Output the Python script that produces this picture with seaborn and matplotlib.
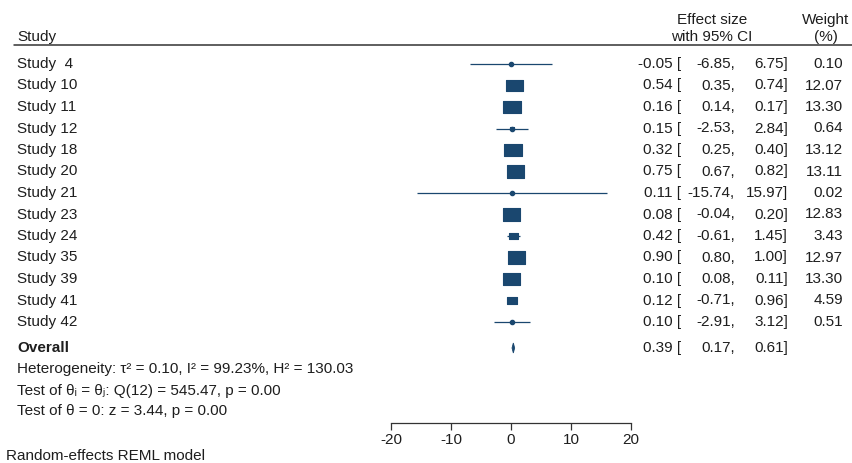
import numpy as np
import matplotlib
matplotlib.use("Agg")
import matplotlib.pyplot as plt
from matplotlib.path import Path
from matplotlib.lines import Line2D
import seaborn as sns

# study-level data
studies = ["Study  4", "Study 10", "Study 11", "Study 12", "Study 18", "Study 20", "Study 21",
           "Study 23", "Study 24", "Study 35", "Study 39", "Study 41", "Study 42"]
effect = [-0.05, 0.54, 0.16, 0.15, 0.32, 0.75, 0.11, 0.08, 0.42, 0.90, 0.10, 0.12, 0.10]
ci_low = [-6.85, 0.35, 0.14, -2.53, 0.25, 0.67, -15.74, -0.04, -0.61, 0.80, 0.08, -0.71, -2.91]
ci_high = [6.75, 0.74, 0.17, 2.84, 0.40, 0.82, 15.97, 0.20, 1.45, 1.00, 0.11, 0.96, 3.12]
weight = [0.10, 12.07, 13.30, 0.64, 13.12, 13.11, 0.02, 12.83, 3.43, 12.97, 13.30, 4.59, 0.51]

overall = (0.39, 0.17, 0.61)
stats_lines = ["Heterogeneity: \u03c4\u00b2 = 0.10, I\u00b2 = 99.23%, H\u00b2 = 130.03",
               "Test of \u03b8\u1d62 = \u03b8\u2c7c: Q(12) = 545.47, p = 0.00",
               "Test of \u03b8 = 0: z = 3.44, p = 0.00"]
xticks = [-20, -10, 0, 10, 20]
footnote = "Random-effects REML model"

sns.set_theme(style="white")
plt.rcParams['font.family'] = ['Liberation Sans', 'DejaVu Sans']
plt.rcParams['axes.unicode_minus'] = False

W, H = 852, 463
navy = "#1a476f"
txt = "#1e1e1e"
fs = 11

def px(x):
    return x / W

def py(y):
    return 1 - y / H

fig = plt.figure(figsize=(W / 100, H / 100), dpi=100)
fig.patch.set_facecolor("white")

# forest axes: y data is in pixel rows so text and marks line up
ax = fig.add_axes([px(391), py(423), px(240), 423 / H])
ax.set_xlim(-20, 20)
ax.set_ylim(423, 0)

rows = 64 + np.arange(len(studies)) * 21.5
y_overall = 348

# confidence intervals
ax.hlines(rows, ci_low, ci_high, color=navy, lw=0.9)

# weighted boxes (slightly wider than tall, like the original)
box = Path([(-1.4, -1), (1.4, -1), (1.4, 1), (-1.4, 1), (-1.4, -1)],
           [Path.MOVETO, Path.LINETO, Path.LINETO, Path.LINETO, Path.CLOSEPOLY])
sns.scatterplot(x=effect, y=rows, size=weight, sizes=(0, 160), size_norm=(0, max(weight)),
                marker=box, color=navy, edgecolor=navy, linewidth=0.8, legend=False, ax=ax)
ax.plot(effect, rows, "o", color=navy, ms=3, mec=navy)

# overall diamond
es, lo, hi = overall
ax.fill([lo, es, hi, es], [y_overall, y_overall - 5, y_overall, y_overall + 5],
        color=navy, lw=0.6, ec=navy)

for s in ["left", "top", "right"]:
    ax.spines[s].set_visible(False)
ax.spines["bottom"].set_color("#333333")
ax.spines["bottom"].set_linewidth(0.9)
ax.set_yticks([])
ax.set_xticks(xticks)
ax.set_xticklabels([str(t) for t in xticks])
ax.tick_params(axis="x", bottom=True, direction="out", length=5, width=0.9,
               color="#333333", labelsize=fs, labelcolor=txt, pad=2)
ax.patch.set_visible(False)

# header
fig.text(px(17), py(37), "Study", fontsize=fs, color=txt, va="center", ha="left")
fig.text(px(712), py(20), "Effect size", fontsize=fs, color=txt, va="center", ha="center")
fig.text(px(712), py(37), "with 95% CI", fontsize=fs, color=txt, va="center", ha="center")
fig.text(px(826), py(20), "Weight", fontsize=fs, color=txt, va="center", ha="center")
fig.text(px(826), py(37), "(%)", fontsize=fs, color=txt, va="center", ha="center")
fig.add_artist(Line2D([px(14), 1], [py(45), py(45)], transform=fig.transFigure,
                      color="#333333", lw=1.1))

# study rows
for name, e, l, h, w, y in zip(studies, effect, ci_low, ci_high, weight, rows):
    fig.text(px(17), py(y), name, fontsize=fs, color=txt, va="center", ha="left")
    fig.text(px(681), py(y), f"{e:.2f} [", fontsize=fs, color=txt, va="center", ha="right")
    fig.text(px(735), py(y), f"{l:.2f},", fontsize=fs, color=txt, va="center", ha="right")
    fig.text(px(788), py(y), f"{h:.2f}]", fontsize=fs, color=txt, va="center", ha="right")
    fig.text(px(843), py(y), f"{w:.2f}", fontsize=fs, color=txt, va="center", ha="right")

# overall row
fig.text(px(17), py(y_overall), "Overall", fontsize=fs, color=txt, va="center", ha="left",
         fontweight="bold")
fig.text(px(681), py(y_overall), f"{es:.2f} [", fontsize=fs, color=txt, va="center", ha="right")
fig.text(px(735), py(y_overall), f"{lo:.2f},", fontsize=fs, color=txt, va="center", ha="right")
fig.text(px(788), py(y_overall), f"{hi:.2f}]", fontsize=fs, color=txt, va="center", ha="right")

for i, line in enumerate(stats_lines):
    fig.text(px(17), py(369.5 + i * 21), line, fontsize=fs, color=txt, va="center", ha="left")

fig.text(px(6), py(456.5), footnote, fontsize=fs, color=txt, va="center", ha="left")

fig.savefig("out.png", dpi=100, facecolor="white")
